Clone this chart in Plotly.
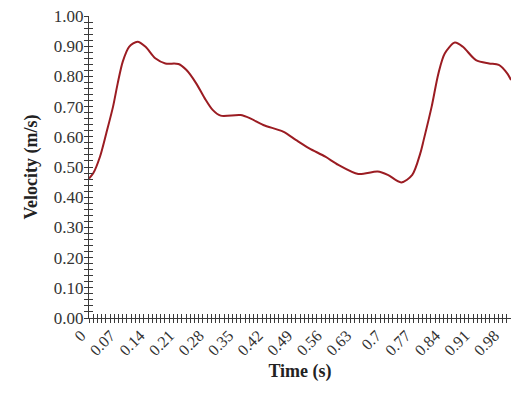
import plotly.graph_objects as go

time_s = [0.000, 0.010, 0.026, 0.041, 0.057, 0.068, 0.080, 0.095, 0.115, 0.134,
          0.157, 0.181, 0.212, 0.231, 0.254, 0.274, 0.293, 0.312, 0.359, 0.382,
          0.413, 0.460, 0.491, 0.522, 0.560, 0.591, 0.638, 0.684, 0.708, 0.740,
          0.766, 0.785, 0.793, 0.812, 0.828, 0.843, 0.867, 0.886, 0.917, 0.948,
          0.971, 0.991, 1.000]
velocity = [0.462, 0.479, 0.534, 0.612, 0.700, 0.777, 0.849, 0.898, 0.915, 0.898,
            0.860, 0.843, 0.841, 0.821, 0.777, 0.728, 0.689, 0.670, 0.672, 0.661,
            0.639, 0.617, 0.589, 0.562, 0.534, 0.507, 0.477, 0.485, 0.474, 0.449,
            0.474, 0.545, 0.589, 0.700, 0.810, 0.876, 0.912, 0.898, 0.854, 0.843,
            0.838, 0.810, 0.788]

x_tick_vals = [0, 0.07, 0.14, 0.21, 0.28, 0.35, 0.42, 0.49, 0.56, 0.63, 0.7, 0.77, 0.84, 0.91, 0.98]
x_tick_text = ["0", "0.07", "0.14", "0.21", "0.28", "0.35", "0.42", "0.49", "0.56", "0.63",
               "0.7", "0.77", "0.84", "0.91", "0.98"]
y_tick_vals = [0.0, 0.1, 0.2, 0.3, 0.4, 0.5, 0.6, 0.7, 0.8, 0.9, 1.0]

font_fam = "Liberation Serif, Times New Roman, serif"
axis_col = "#3a3a3a"

fig = go.Figure()
fig.add_trace(go.Scatter(x=time_s, y=velocity, mode="lines",
                         line=dict(color="#9b1c22", width=2, shape="spline", smoothing=0.8),
                         showlegend=False, hoverinfo="skip"))
# empty trace so overlay axes render
fig.add_trace(go.Scatter(x=[], y=[], xaxis="x2", yaxis="y2", showlegend=False))

common_x = dict(range=[0, 1.0], showgrid=False, zeroline=False, showline=True, automargin=False,
                linecolor=axis_col, linewidth=1, tickcolor=axis_col, tickwidth=1)
common_y = dict(range=[0, 1.0], showgrid=False, zeroline=False, showline=True, automargin=False,
                linecolor=axis_col, linewidth=1, tickcolor=axis_col, tickwidth=1)

fig.update_layout(
    width=503, height=374,
    margin=dict(l=81, r=0, t=8, b=64, autoexpand=False),
    plot_bgcolor="white", paper_bgcolor="white",
    font=dict(family=font_fam, color="#333333", size=16),
    xaxis=dict(**common_x, tickmode="array", tickvals=x_tick_vals, ticktext=x_tick_text,
               ticks="outside", ticklen=4, tickangle=-45, ticklabelshift=-8,
               ticklabelstandoff=-3, ticklabeloverflow="allow",
               tickfont=dict(family=font_fam, size=16, color="#333333"),
               minor=dict(tick0=0, dtick=0.01, ticks="outside", ticklen=4,
                          tickcolor=axis_col, tickwidth=1),
               title=dict(text="<b>Time (s)</b>", standoff=19,
                          font=dict(family=font_fam, size=18, color="#222222"))),
    yaxis=dict(**common_y, tickmode="array", tickvals=y_tick_vals, tickformat=".2f",
               ticks="outside", ticklen=4, ticklabelstandoff=-3, ticklabeloverflow="allow",
               tickfont=dict(family=font_fam, size=17, color="#333333"),
               minor=dict(tick0=0, dtick=0.02, ticks="outside", ticklen=4,
                          tickcolor=axis_col, tickwidth=1),
               title=dict(text="<b>Velocity (m/s)</b>", standoff=11,
                          font=dict(family=font_fam, size=18, color="#222222"))),
    xaxis2=dict(**common_x, overlaying="x", anchor="y2", tickmode="array", tickvals=x_tick_vals,
                ticks="inside", ticklen=4, showticklabels=False,
                minor=dict(tick0=0, dtick=0.01, ticks="inside", ticklen=4,
                           tickcolor=axis_col, tickwidth=1)),
    yaxis2=dict(**common_y, overlaying="y", anchor="x2", tickmode="array", tickvals=y_tick_vals,
                ticks="inside", ticklen=4, showticklabels=False,
                minor=dict(tick0=0, dtick=0.02, ticks="inside", ticklen=4,
                           tickcolor=axis_col, tickwidth=1)),
)

fig.write_html("out.html")
